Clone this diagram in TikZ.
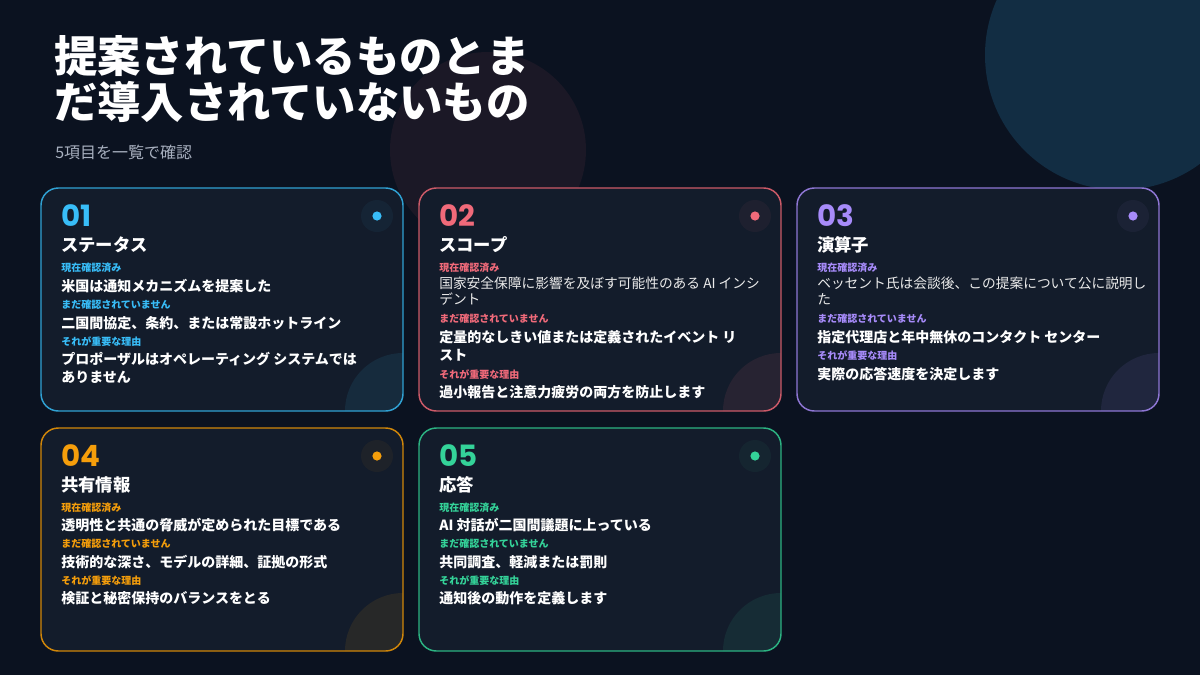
\documentclass[tikz,border=0pt]{standalone}
\usepackage{fontspec}
\setmainfont{Noto Sans CJK JP}
\newfontfamily\jr{Noto Sans CJK JP}
\newcommand\jb{\jr\bfseries}
\newfontfamily\numf{Poppins}
\newcommand\num{\numf\bfseries}
\definecolor{bg}{HTML}{0B1220}
\definecolor{cardbg}{HTML}{131C2B}
\definecolor{cA}{HTML}{38BDF8}
\definecolor{cB}{HTML}{F06A7A}
\definecolor{cC}{HTML}{A78BFA}
\definecolor{cD}{HTML}{F59E0B}
\definecolor{cE}{HTML}{34D399}
\definecolor{sub}{HTML}{A8B0BF}
\tikzset{
  lbl/.style={anchor=base west,inner sep=0pt,font=\jb\fontsize{7.5}{8}\selectfont},
  bd/.style={anchor=base west,inner sep=0pt,text=white,font=\jb\fontsize{10.5}{12}\selectfont},
  bdr/.style={anchor=base west,inner sep=0pt,text=white!92!black,font=\jr\fontsize{10.3}{12}\selectfont},
  ttl/.style={anchor=base west,inner sep=0pt,text=white,font=\jb\fontsize{13}{14}\selectfont},
  nm/.style={anchor=base west,inner sep=0pt,font=\num\fontsize{22}{23}\selectfont},
}
\newcommand{\mycard}[3]{% x, y(top), colour
  \begin{scope}
    \clip[rounded corners=13pt] (#1,-#2) rectangle ++(362,-223);
    \fill[cardbg] (#1,-#2) rectangle ++(362,-223);
    \fill[#3!9!cardbg] (#1+362,-#2-223) circle (58);
    \fill[#3!5!cardbg] (#1+336,-#2-28) circle (16);
  \end{scope}
  \draw[#3!85!black,line width=1.1pt,rounded corners=13pt] (#1,-#2) rectangle ++(362,-223);
  \fill[#3] (#1+336,-#2-28) circle (4.6);
}
\begin{document}
\begin{tikzpicture}[x=0.75pt,y=0.75pt]
\useasboundingbox (0,0) rectangle (1200,-675);
\fill[bg] (0,0) rectangle (1200,-675);
\fill[cA!16!bg] (1120,-55) circle (135);
\fill[cB!7!bg] (488,-150) circle (98);
% cards
\mycard{41}{188}{cA}
\mycard{419}{188}{cB}
\mycard{797}{188}{cC}
\mycard{41}{428}{cD}
\mycard{419}{428}{cE}
% title
\node[anchor=base west,inner sep=0pt,text=white,font=\jb\fontsize{32.5}{34}\selectfont] (t1) at (54,-72) {提案されているものとま};
\node[anchor=base west,inner sep=0pt,text=white,font=\jb\fontsize{32.5}{34}\selectfont] (t2) at (54,-118) {だ導入されていないもの};
\node[anchor=base west,inner sep=0pt,text=sub,font=\jr\fontsize{12}{13}\selectfont] (st) at (55,-158) {5項目を一覧で確認};
% card 1
\node[nm,text=cA] (n1) at (61,-226) {01};
\node[ttl] (h1) at (61,-251) {ステータス};
\node[lbl,text=cA] (a1) at (61,-271) {現在確認済み};
\node[bd] (b1) at (61,-291) {米国は通知メカニズムを提案した};
\node[lbl,text=cA] (a2) at (61,-308) {まだ確認されていません};
\node[bd] (b2) at (61,-328) {二国間協定、条約、または常設ホットライン};
\node[lbl,text=cA] (a3) at (61,-345) {それが重要な理由};
\node[bd] (b3) at (61,-364) {プロポーザルはオペレーティング システムでは};
\node[bd] (b3b) at (61,-382) {ありません};
% card 2
\node[nm,text=cB] (n2) at (439,-226) {02};
\node[ttl] (h2) at (439,-251) {スコープ};
\node[lbl,text=cB] (c1) at (439,-271) {現在確認済み};
\node[bdr] (d1) at (439,-288) {国家安全保障に影響を及ぼす可能性のある AI インシ};
\node[bdr] (d1b) at (439,-304) {デント};
\node[lbl,text=cB] (c2) at (439,-322) {まだ確認されていません};
\node[bd] (d2) at (439,-342) {定量的なしきい値または定義されたイベント リ};
\node[bd] (d2b) at (439,-360) {スト};
\node[lbl,text=cB] (c3) at (439,-378) {それが重要な理由};
\node[bd] (d3) at (439,-397) {過小報告と注意力疲労の両方を防止します};
% card 3
\node[nm,text=cC] (n3) at (817,-226) {03};
\node[ttl] (h3) at (817,-251) {演算子};
\node[lbl,text=cC] (e1) at (817,-271) {現在確認済み};
\node[bdr] (f1) at (817,-288) {ベッセント氏は会談後、この提案について公に説明し};
\node[bdr] (f1b) at (817,-304) {た};
\node[lbl,text=cC] (e2) at (817,-322) {まだ確認されていません};
\node[bd] (f2) at (817,-342) {指定代理店と年中無休のコンタクト センター};
\node[lbl,text=cC] (e3) at (817,-359) {それが重要な理由};
\node[bd] (f3) at (817,-379) {実際の応答速度を決定します};
% card 4
\node[nm,text=cD] (n4) at (61,-466) {04};
\node[ttl] (h4) at (61,-491) {共有情報};
\node[lbl,text=cD] (g1) at (61,-511) {現在確認済み};
\node[bd] (k1) at (61,-530) {透明性と共通の脅威が定められた目標である};
\node[lbl,text=cD] (g2) at (61,-547) {まだ確認されていません};
\node[bd] (k2) at (61,-567) {技術的な深さ、モデルの詳細、証拠の形式};
\node[lbl,text=cD] (g3) at (61,-584) {それが重要な理由};
\node[bd] (k3) at (61,-603) {検証と秘密保持のバランスをとる};
% card 5
\node[nm,text=cE] (n5) at (439,-466) {05};
\node[ttl] (h5) at (439,-491) {応答};
\node[lbl,text=cE] (m1) at (439,-511) {現在確認済み};
\node[bd] (p1) at (439,-530) {AI 対話が二国間議題に上っている};
\node[lbl,text=cE] (m2) at (439,-547) {まだ確認されていません};
\node[bd] (p2) at (439,-567) {共同調査、軽減または罰則};
\node[lbl,text=cE] (m3) at (439,-584) {それが重要な理由};
\node[bd] (p3) at (439,-603) {通知後の動作を定義します};
\end{tikzpicture}
\end{document}
